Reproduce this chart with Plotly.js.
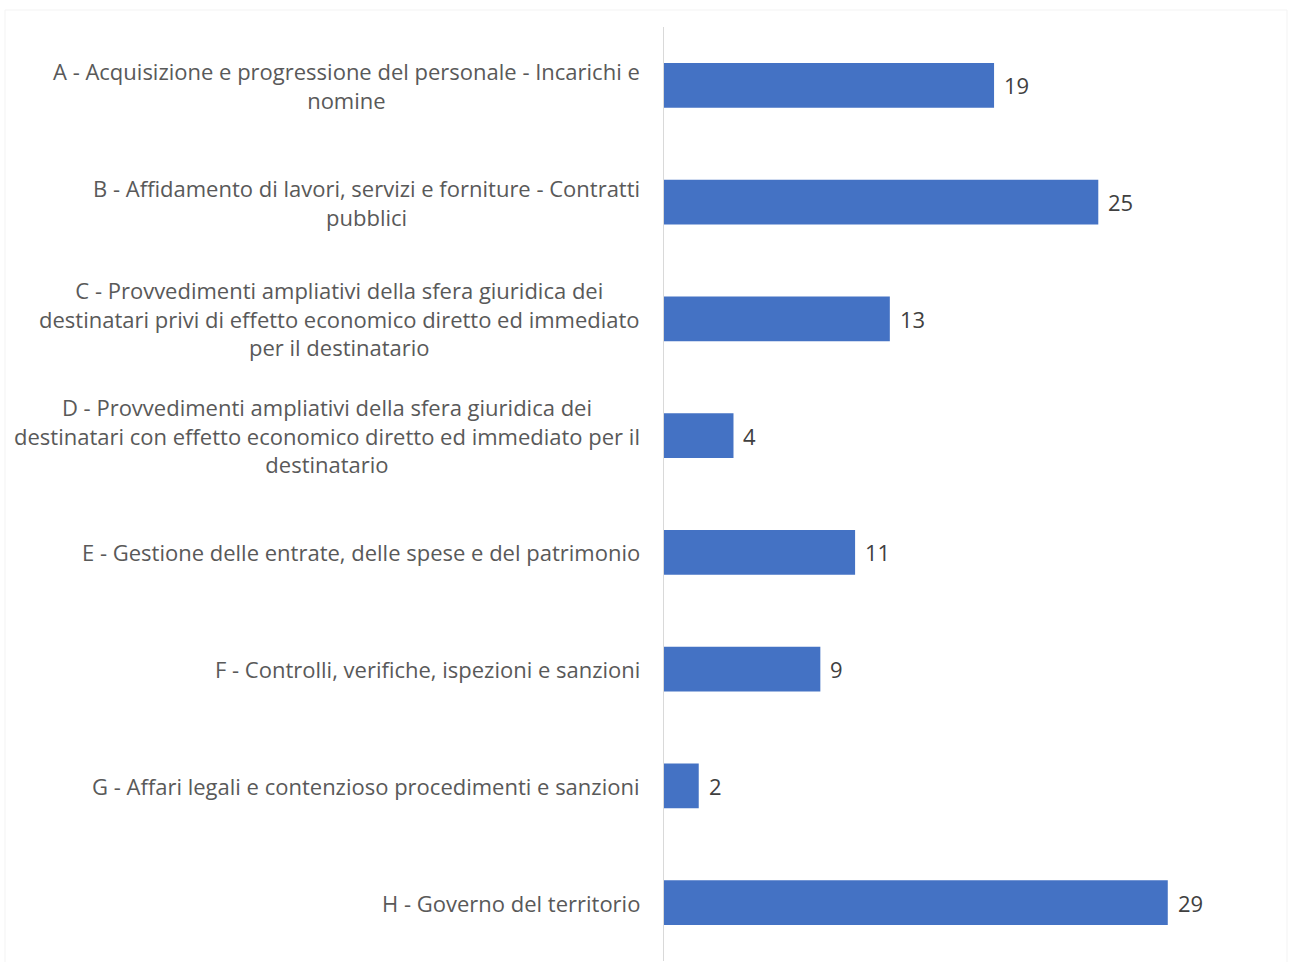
<!DOCTYPE html>
<html>
<head>
<meta charset="utf-8">
<script src="https://cdn.plot.ly/plotly-3.0.1.min.js"></script>
<style>html,body{margin:0;padding:0;background:#fff;}</style>
</head>
<body>
<div id="chart" style="width:1292px;height:962px;"></div>
<script>
const categories = ["A", "B", "C", "D", "E", "F", "G", "H"];
const labels = [
  "A - Acquisizione e progressione del personale - Incarichi e<br>nomine",
  "B - Affidamento di lavori, servizi e forniture - Contratti<br>pubblici",
  "C - Provvedimenti ampliativi della sfera giuridica dei<br>destinatari privi di effetto economico diretto ed immediato<br>per il destinatario",
  "D - Provvedimenti ampliativi della sfera giuridica dei<br>destinatari con effetto economico diretto ed immediato per il<br>destinatario",
  "E - Gestione delle entrate, delle spese e del patrimonio",
  "F - Controlli, verifiche, ispezioni e sanzioni",
  "G - Affari legali e contenzioso procedimenti e sanzioni",
  "H - Governo del territorio"
];
const values = [19, 25, 13, 4, 11, 9, 2, 29];

const FONT = "Open Sans, sans-serif";

const trace = {
  type: "bar",
  orientation: "h",
  x: values,
  y: categories,
  marker: {color: "#4472C4", line: {width: 0}},
  hoverinfo: "none"
};

const annotations = [];
categories.forEach((c, i) => {
  annotations.push({
    xref: "paper", yref: "y", x: 0, y: c,
    xanchor: "right", yanchor: "middle", xshift: -22,
    align: "center", showarrow: false,
    text: labels[i],
    font: {family: FONT, size: 22, color: "#595959"}
  });
  annotations.push({
    xref: "x", yref: "y", x: values[i], y: c,
    xanchor: "left", yanchor: "middle", xshift: 8,
    showarrow: false, text: String(values[i]),
    font: {family: FONT, size: 22, color: "#404040"}
  });
});

const layout = {
  width: 1292, height: 962,
  margin: {l: 664, r: 20, t: 27, b: 1, pad: 0},
  paper_bgcolor: "#ffffff", plot_bgcolor: "#ffffff",
  showlegend: false,
  bargap: 0.615,
  xaxis: {range: [0, 35], visible: false, fixedrange: true},
  yaxis: {
    autorange: "reversed", showticklabels: false, ticks: "",
    showgrid: false, zeroline: false,
    showline: true, linecolor: "#d9d9d9", linewidth: 1, fixedrange: true
  },
  annotations: annotations,
  shapes: [{
    type: "rect", xref: "paper", yref: "paper",
    x0: (5 - 664) / 608, x1: (1287 - 664) / 608,
    y0: -0.01, y1: 1 + 17 / 934,
    line: {color: "#f3f3f3", width: 1}, fillcolor: "rgba(0,0,0,0)", layer: "below"
  }]
};

Plotly.newPlot("chart", [trace], layout, {displayModeBar: false, staticPlot: true});
</script>
</body>
</html>
